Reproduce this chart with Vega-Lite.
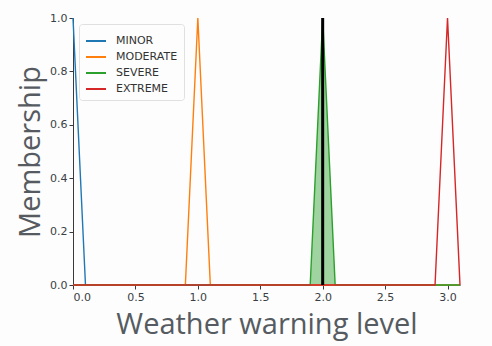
{
  "$schema": "https://vega.github.io/schema/vega-lite/v6.json",
  "autosize": {"type": "none"},
  "width": 387,
  "height": 267,
  "padding": {"left": 73, "top": 18, "right": 32, "bottom": 61},
  "background": "#fdfdfd",
  "datasets": {
    "mf": [
      {"series": "MINOR", "x": 0, "y": 1},
      {"series": "MINOR", "x": 0.1, "y": 0},
      {"series": "MINOR", "x": 3.1, "y": 0},
      {"series": "MODERATE", "x": 0, "y": 0},
      {"series": "MODERATE", "x": 0.9, "y": 0},
      {"series": "MODERATE", "x": 1.0, "y": 1},
      {"series": "MODERATE", "x": 1.1, "y": 0},
      {"series": "MODERATE", "x": 3.1, "y": 0},
      {"series": "SEVERE", "x": 0, "y": 0},
      {"series": "SEVERE", "x": 1.9, "y": 0},
      {"series": "SEVERE", "x": 2.0, "y": 1},
      {"series": "SEVERE", "x": 2.1, "y": 0},
      {"series": "SEVERE", "x": 3.1, "y": 0},
      {"series": "EXTREME", "x": 0, "y": 0},
      {"series": "EXTREME", "x": 2.9, "y": 0},
      {"series": "EXTREME", "x": 3.0, "y": 1},
      {"series": "EXTREME", "x": 3.1, "y": 0}
    ],
    "fill": [
      {"x": 1.9, "y": 0},
      {"x": 2.0, "y": 1},
      {"x": 2.1, "y": 0}
    ],
    "marker": [
      {"x": 2.0, "y0": 0, "y1": 1}
    ]
  },
  "config": {
    "view": {"stroke": null},
    "axis": {
      "grid": false,
      "domainColor": "#3a3a3a",
      "tickColor": "#3a3a3a",
      "labelColor": "#3a3f44",
      "labelFont": "DejaVu Sans",
      "labelFontSize": 11,
      "titleColor": "#555b60",
      "titleFont": "Open Sans",
      "titleFontWeight": "normal",
      "titleFontSize": 29,
      "tickSize": 4
    },
    "legend": {
      "labelFont": "DejaVu Sans",
      "labelFontSize": 11,
      "labelColor": "#333"
    }
  },
  "layer": [
    {
      "data": {"name": "fill"},
      "mark": {"type": "area", "color": "#2ca02c", "opacity": 0.45},
      "encoding": {
        "x": {"field": "x", "type": "quantitative"},
        "y": {"field": "y", "type": "quantitative"}
      }
    },
    {
      "data": {"name": "mf"},
      "mark": {"type": "line", "strokeWidth": 1.4},
      "encoding": {
        "x": {
          "field": "x", "type": "quantitative",
          "scale": {"domain": [0, 3.1], "nice": false, "zero": false},
          "axis": {"values": [0, 0.5, 1, 1.5, 2, 2.5, 3], "format": ".1f", "title": "Weather warning level", "titlePadding": 8}
        },
        "y": {
          "field": "y", "type": "quantitative",
          "scale": {"domain": [0, 1], "nice": false},
          "axis": {"values": [0, 0.2, 0.4, 0.6, 0.8, 1.0], "format": ".1f", "title": "Membership", "titlePadding": 4}
        },
        "color": {
          "field": "series", "type": "nominal",
          "scale": {"domain": ["MINOR", "MODERATE", "SEVERE", "EXTREME"], "range": ["#1f77b4", "#ff7f0e", "#2ca02c", "#d62728"]},
          "legend": {
            "title": null,
            "orient": "top-left",
            "offset": 6,
            "symbolType": "stroke",
            "symbolSize": 400,
            "symbolStrokeWidth": 2,
            "rowPadding": 0,
            "padding": 6,
            "labelOffset": 9,
            "strokeColor": "#e0e0e0",
            "fillColor": "#fdfdfd",
            "cornerRadius": 3
          }
        },
        "order": {"field": "x", "type": "quantitative"}
      }
    },
    {
      "data": {"name": "marker"},
      "mark": {"type": "rule", "color": "black", "strokeWidth": 3},
      "encoding": {
        "x": {"field": "x", "type": "quantitative"},
        "y": {"field": "y0", "type": "quantitative"},
        "y2": {"field": "y1"}
      }
    }
  ]
}
